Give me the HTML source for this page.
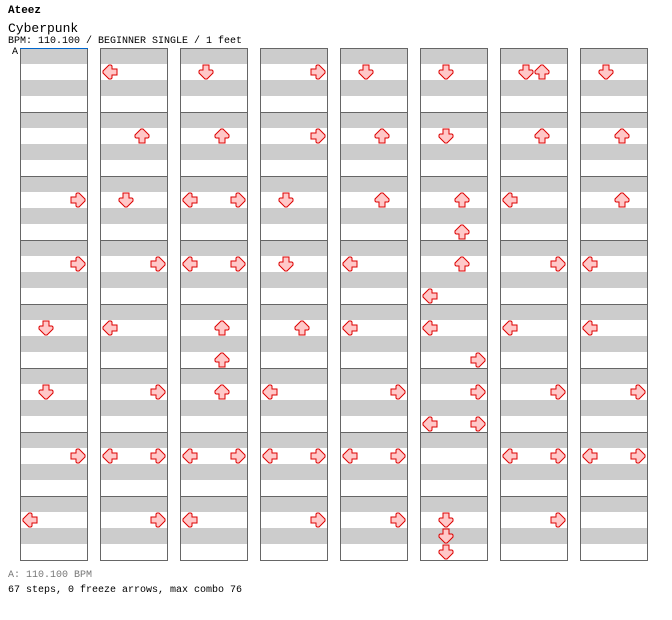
<!DOCTYPE html>
<html><head><style>
html,body{margin:0;padding:0;background:#fff;width:672px;height:620px;overflow:hidden;font-family:"Liberation Mono",monospace}
.t{position:absolute;left:8px;white-space:pre;color:#000}
</style></head><body>
<div class="t" style="top:5px;font-size:11px;font-weight:bold">Ateez</div>
<div class="t" style="top:21px;font-size:13px">Cyberpunk</div>
<div class="t" style="top:36px;font-size:10px">BPM: 110.100 / BEGINNER SINGLE / 1 feet</div>
<div class="t" style="top:570px;font-size:10px;color:#777">A: 110.100 BPM</div>
<div class="t" style="top:585px;font-size:10px">67 steps, 0 freeze arrows, max combo 76</div>
<div class="t" style="top:47px;left:12px;font-size:10px">A</div>
<svg id="s" width="672" height="620" style="position:absolute;left:0;top:0" xmlns="http://www.w3.org/2000/svg"></svg>
<script>
var d=[
[[],[["L",1]],[["D",1]],[["R",1]],[["D",1]],[["D",1]],[["D",1],["U",1]],[["D",1]]],
[[],[["U",1]],[["U",1]],[["R",1]],[["U",1]],[["D",1]],[["U",1]],[["U",1]]],
[[["R",1]],[["D",1]],[["L",1],["R",1]],[["D",1]],[["U",1]],[["U",1],["U",3]],[["L",1]],[["U",1]]],
[[["R",1]],[["R",1]],[["L",1],["R",1]],[["D",1]],[["L",1]],[["U",1],["L",3]],[["R",1]],[["L",1]]],
[[["D",1]],[["L",1]],[["U",1],["U",3]],[["U",1]],[["L",1]],[["L",1],["R",3]],[["L",1]],[["L",1]]],
[[["D",1]],[["R",1]],[["U",1]],[["L",1]],[["R",1]],[["R",1],["L",3],["R",3]],[["R",1]],[["R",1]]],
[[["R",1]],[["L",1],["R",1]],[["L",1],["R",1]],[["L",1],["R",1]],[["L",1],["R",1]],[],[["L",1],["R",1]],[["L",1],["R",1]]],
[[["L",1]],[["R",1]],[["L",1]],[["R",1]],[["R",1]],[["D",1],["D",2],["D",3]],[["R",1]],[]]
];
var lane={L:10,D:26,U:42,R:58},rot={D:0,L:90,U:180,R:270};
var h='';
for(var r=0;r<8;r++)for(var c=0;c<8;c++){
 var x=20+c*80,y=48+r*64;
 h+='<rect x="'+x+'" y="'+y+'" width="68" height="64" fill="#fff"/>';
 h+='<rect x="'+x+'" y="'+y+'" width="68" height="16" fill="#ccc"/>';
 h+='<rect x="'+x+'" y="'+(y+32)+'" width="68" height="16" fill="#ccc"/>';
 h+='<rect x="'+(x+0.5)+'" y="'+(y+0.5)+'" width="67" height="64" fill="none" stroke="#666" stroke-width="1"/>';
 d[r][c].forEach(function(a){
  var cx=x+lane[a[0]],cy=y+8+16*a[1];
  h+='<g transform="translate('+cx+','+cy+') rotate('+rot[a[0]]+')"><path d="M-3,-7H3V-2H6L7,-1V1L1,7H-1L-7,1V-1L-6,-2H-3Z" fill="#ffc8c8" stroke="#d00" stroke-width="1"/></g>';
 });
}
h+='<line x1="20" y1="48.5" x2="88" y2="48.5" stroke="#06c" stroke-width="1"/>';
document.getElementById('s').innerHTML=h;
</script>
</body></html>
